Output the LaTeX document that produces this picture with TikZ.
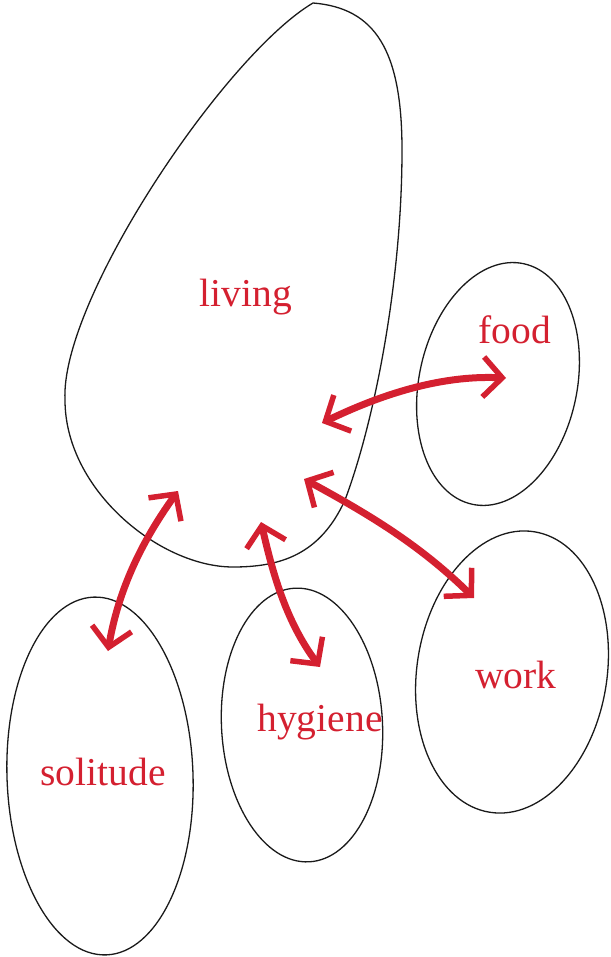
\documentclass[tikz,border=0pt]{standalone}
\usepackage{fontspec}
\setmainfont{Liberation Serif}
\usetikzlibrary{arrows.meta,shapes.geometric}
\definecolor{ink}{HTML}{1A1A1A}
\definecolor{mark}{HTML}{D42030}
\tikzset{
  blob/.style={draw=ink, line width=1.3pt, ellipse, inner sep=0pt},
  lbl/.style={text=mark, font=\fontsize{39.5}{42}\selectfont, inner sep=0pt},
  link/.style={{Straight Barb[length=19pt,width=40pt,line width=5.5pt]}-{Straight Barb[length=19pt,width=40pt,line width=5.5pt]},
               draw=mark, line width=7pt, line cap=round},
}

\begin{document}
\begin{tikzpicture}[x=1pt, y=-1pt]
    \useasboundingbox (0,0) rectangle (610,957);
    % the big egg
    \draw[ink, line width=1.3pt] (313,3) .. controls (375,8) and (402,50) .. (402,150)
      .. controls (402,280) and (375,420) .. (345,500)
      .. controls (320,555) and (280,567) .. (233,567)
      .. controls (160,567) and (65,490) .. (65,400)
      .. controls (60,300) and (225,55) .. cycle;
    \node[lbl] (living) at (246,297) {living};
    % the four smaller ones
    \node[blob, minimum width=158pt, minimum height=246pt, rotate=-12] (foodbox) at (498,384) {};
    \node[blob, minimum width=190pt, minimum height=284pt, rotate=-9] (workbox) at (512,672) {};
    \node[blob, minimum width=161pt, minimum height=274pt, rotate=3] (hygbox) at (302,725) {};
    \node[blob, minimum width=186pt, minimum height=358pt, rotate=2] (solbox) at (100,776) {};
    \node[lbl] (food) at (515,330) {food};
    \node[lbl] (work) at (516,675) {work};
    \node[lbl] (hygiene) at (320,722) {hygiene};
    \node[lbl] (solitude) at (103,772) {solitude};
    % arrow ends
    \coordinate (lf) at (322,423);
    \coordinate (fl) at (506,378);
    \coordinate (ls) at (178,491);
    \coordinate (sl) at (108,651);
    \coordinate (lh) at (261,522);
    \coordinate (hl) at (320,667);
    \coordinate (lw) at (304,479);
    \coordinate (wl) at (474,598);
    \draw[link] (lf) .. controls (380,395) and (440,375) .. (fl);
    \draw[link] (ls) .. controls (150,530) and (120,580) .. (sl);
    \draw[link] (lh) .. controls (272,570) and (285,620) .. (hl);
    \draw[link] (lw) .. controls (370,515) and (420,545) .. (wl);
\end{tikzpicture}
\end{document}
